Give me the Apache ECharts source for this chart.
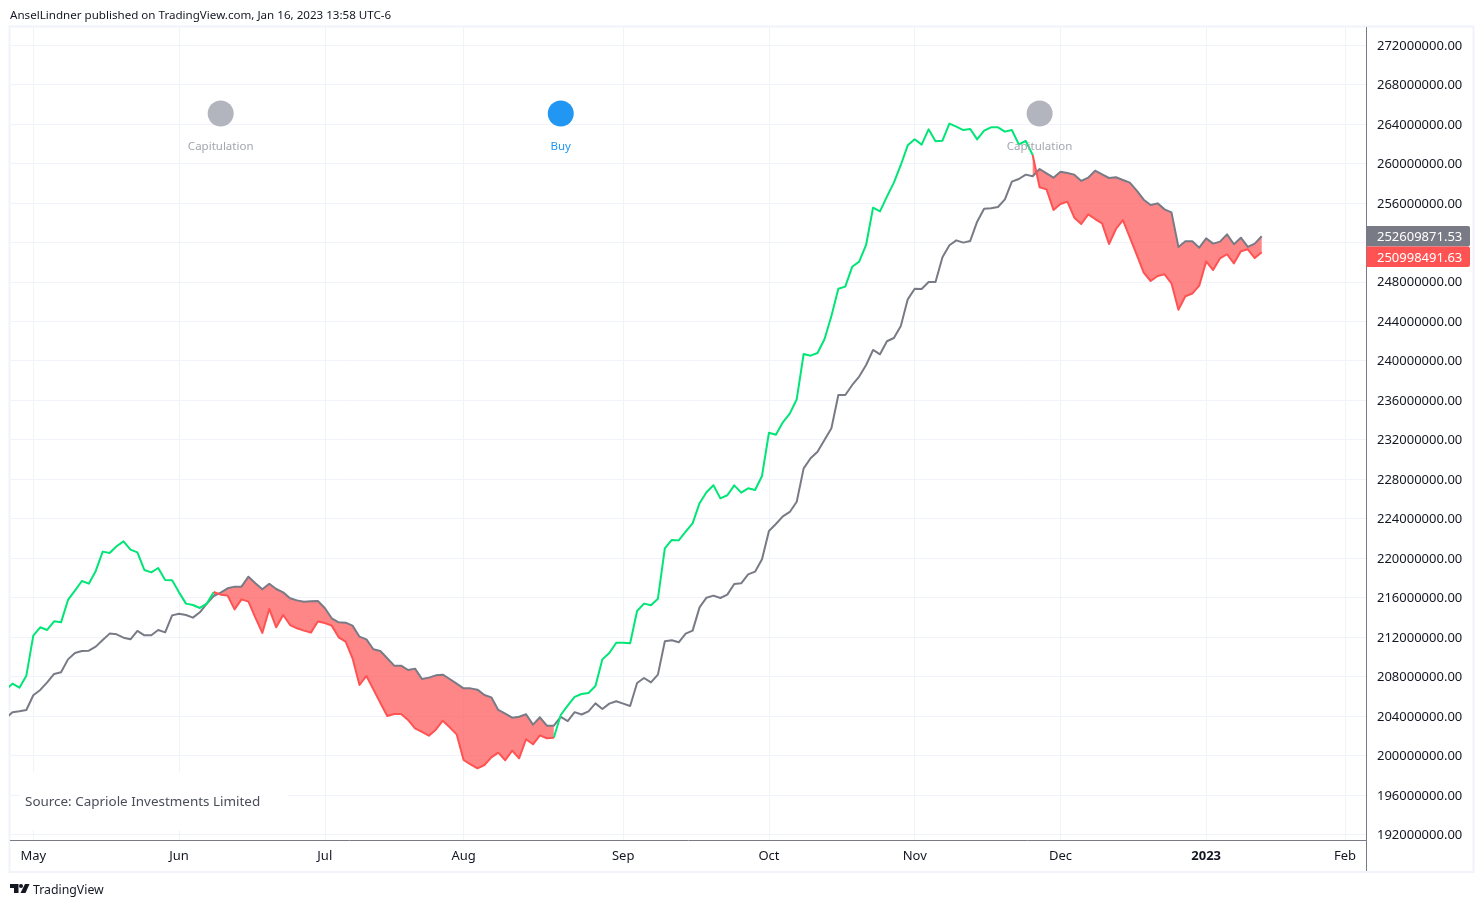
<!DOCTYPE html>
<html>
<head>
<meta charset="utf-8">
<title>Capriole</title>
<script src="https://cdn.jsdelivr.net/npm/echarts@6/dist/echarts.min.js"></script>
<style>
html,body{margin:0;padding:0;background:#fff}
#chart{width:1484px;height:907px}
</style>
</head>
<body>
<div id="chart"></div>
<script>
// values in millions, one per trading day, bar 0 is just left of the visible area
var fastLine = [206.63,207.27,206.86,208.08,212.13,212.98,212.71,213.59,213.48,215.75,
  216.69,217.67,217.40,218.69,220.65,220.51,221.19,221.69,220.85,220.58,
  218.79,218.55,218.99,217.77,217.74,216.52,215.38,215.24,214.94,215.38,
  216.56,216.29,216.19,214.80,215.81,215.58,213.96,212.41,214.84,212.98,
  214.23,213.21,212.88,212.64,212.44,213.56,213.42,213.15,211.96,211.52,
  209.84,207.13,208.05,206.69,205.34,203.99,204.19,204.19,203.59,202.74,
  202.37,201.99,202.60,203.51,202.84,202.13,199.53,199.09,198.69,199.02,
  199.80,200.27,199.50,200.48,199.70,201.63,201.12,202.03,201.73,201.79,
  204.09,205.04,205.92,206.22,206.32,207.03,209.73,210.38,211.42,211.42,
  211.36,214.63,215.38,215.21,215.88,220.98,221.83,221.79,222.67,223.52,
  225.56,226.66,227.37,226.05,226.36,227.37,226.63,227.07,226.90,228.32,
  232.70,232.50,233.76,234.64,236.09,240.68,240.51,240.78,242.17,244.53,
  247.30,247.51,249.53,250.04,251.73,255.51,255.14,256.63,258.05,259.84,
  261.83,262.44,261.90,263.45,262.24,262.30,264.03,263.72,263.38,263.49,
  262.44,263.32,263.66,263.66,263.22,263.38,261.93,262.27,260.85,257.58,
  257.37,255.28,255.88,256.12,254.50,253.86,254.84,254.36,253.92,251.83,
  253.35,254.26,252.51,250.72,248.93,248.08,248.59,248.76,247.84,245.17,
  246.53,246.80,247.61,250.07,249.19,250.38,250.79,249.87,251.09,251.29,
  250.41,251.00];
var slowLine = [203.75,204.36,204.46,204.60,206.09,206.63,207.40,208.25,208.42,209.73,
  210.38,210.58,210.61,211.02,211.69,212.34,212.27,211.93,211.76,212.61,
  212.17,212.17,212.71,212.47,214.19,214.36,214.23,213.96,214.50,215.38,
  216.15,216.49,216.93,217.10,217.10,218.11,217.44,216.83,217.40,216.86,
  216.52,215.92,215.71,215.58,215.61,215.65,214.94,213.89,213.48,213.45,
  213.15,212.03,211.76,210.75,210.58,209.84,209.09,209.09,208.65,208.79,
  207.74,207.88,208.11,208.18,207.74,207.27,206.79,206.79,206.66,206.12,
  205.88,204.60,204.23,203.82,203.92,204.16,203.11,203.86,203.01,203.01,
  203.89,203.48,204.38,204.14,204.46,205.27,204.70,205.24,205.48,205.24,
  205.00,207.33,207.84,207.40,208.18,211.56,211.66,211.46,212.34,212.64,
  215.00,215.98,216.19,215.95,216.29,217.37,217.44,218.35,218.62,219.87,
  222.74,223.45,224.23,224.67,225.71,229.09,230.11,230.78,231.97,233.15,
  236.53,236.53,237.54,238.39,239.57,241.09,240.65,241.97,242.30,243.52,
  246.22,247.30,247.27,247.98,247.98,250.48,251.70,252.20,251.97,252.14,
  254.09,255.41,255.45,255.58,256.35,258.15,258.42,258.86,258.70,259.43,
  258.99,258.55,259.16,259.03,258.86,258.22,258.55,259.26,258.89,258.52,
  258.59,258.32,258.05,257.24,256.32,255.78,255.95,255.34,255.04,251.53,
  252.10,252.10,251.46,252.40,251.87,252.07,252.81,251.80,252.47,251.53,
  251.87,252.61];

var monthBars = [4,25,46,66,89,110,131,152,173,193];
var monthNames = ['May','Jun','Jul','Aug','Sep','Oct','Nov','Dec','2023','Feb'];
var priceTicks = [192,196,200,204,208,212,216,220,224,228,232,236,240,244,248,252,256,260,264,268,272];
// 252 is covered by the last value tags, so it gets a grid line but no label
var priceLabels = [192,196,200,204,208,212,216,220,224,228,232,236,240,244,248,256,260,264,268,272];

// [first bar, last bar] of each colour run of the fast line
var greenRuns = [[0,30],[79,148]];
var redRuns = [[30,79],[148,181]];

var eventBars = [31,80,149];
var eventLevel = 265.06;
var eventNames = ['Capitulation','Buy','Capitulation'];
var eventColors = ['#B2B5BE','#2196F3','#B2B5BE'];

var tagValues = [252609871.53,250998491.63];
var tagColors = ['#787B86','#FF5252'];

var FONT = '"Noto Sans", sans-serif';
var BAR_MIN = 0.715, BAR_MAX = 196.1;

function runData(arr, run){
    var out = [];
    for (var i = run[0]; i <= run[1]; i++) out.push([i, arr[i]]);
    return out;
}

function lineSeries(data, color){
    return {
        type:'line',
        data:data,
        symbol:'none',
        smooth:false,
        silent:true,
        z:5,
        lineStyle:{color:color,width:2,join:'round'}
    };
}

var series = [];

// red band between the two lines
series.push({
    type:'custom',
    coordinateSystem:'cartesian2d',
    silent:true,
    z:3,
    data:redRuns,
    encode:{x:[0,1],y:[]},
    renderItem:function(params,api){
        var from = api.value(0), to = api.value(1), pts = [], i;
        for (i = from; i <= to; i++) pts.push(api.coord([i, fastLine[i]]));
        for (i = to; i >= from; i--) pts.push(api.coord([i, slowLine[i]]));
        return {type:'polygon',shape:{points:pts},style:{fill:'rgba(255,82,82,0.7)'}};
    }
});

series.push(lineSeries(slowLine.map(function(v,i){return [i,v];}),'#787B86'));
greenRuns.forEach(function(r){ series.push(lineSeries(runData(fastLine,r),'#00E676')); });
redRuns.forEach(function(r){ series.push(lineSeries(runData(fastLine,r),'#FF5252')); });

// buy / capitulation markers
series.push({
    type:'scatter',
    silent:true,
    z:6,
    symbol:'circle',
    symbolSize:26,
    data:eventBars.map(function(b,i){
        return {
            value:[b,eventLevel],
            itemStyle:{color:eventColors[i],opacity:1},
            label:{
                show:true,
                position:'bottom',
                distance:14,
                formatter:eventNames[i],
                color:i==1 ? '#2196F3' : '#A3A6AF',
                fontSize:11.5,
                fontFamily:FONT
            }
        };
    })
});

// last value tags on the price scale
series.push({
    type:'custom',
    coordinateSystem:'cartesian2d',
    silent:true,
    z:8,
    data:tagValues.map(function(v){return [BAR_MAX, v/1e6];}),
    renderItem:function(params,api){
        var c = api.coord([api.value(0),api.value(1)]);
        var i = params.dataIndex;
        // second tag is pushed down so it sits under the first
        var top = i==0 ? c[1]-10.3 : c[1]-5.7;
        return {
            type:'group',
            children:[
                {type:'rect',shape:{x:c[0],y:top,width:103.5,height:20.5,r:[0,2,2,0]},style:{fill:tagColors[i]}},
                {type:'text',style:{x:Math.round(c[0]+10.5),y:Math.round(top+11.3),text:tagValues[i].toFixed(2),fill:'#fff',font:'13px '+FONT,textVerticalAlign:'middle'}}
            ]
        };
    }
});

var option = {
    animation:false,
    backgroundColor:'#fff',
    grid:{left:10.5,top:27.5,width:1356,height:813,containLabel:false},
    xAxis:{
        type:'value',
        min:BAR_MIN,
        max:BAR_MAX,
        axisLine:{show:true,lineStyle:{color:'#787B86',width:1}},
        axisTick:{show:false,customValues:monthBars},
        splitLine:{show:true,lineStyle:{color:'#F0F3FA',width:1}},
        axisLabel:{
            customValues:monthBars,
            margin:9,
            color:'#131722',
            fontSize:13,
            fontFamily:FONT,
            formatter:function(v){
                var n = monthNames[monthBars.indexOf(v)];
                return n=='2023' ? '{b|'+n+'}' : n;
            },
            rich:{b:{fontWeight:'bold',fontSize:13,fontFamily:FONT,color:'#131722'}}
        }
    },
    yAxis:{
        type:'value',
        position:'right',
        min:191.37,
        max:273.774,
        axisLine:{show:true,onZero:false,lineStyle:{color:'#787B86',width:1}},
        axisTick:{show:false,customValues:priceTicks},
        splitLine:{show:true,lineStyle:{color:'#F0F3FA',width:1}},
        axisLabel:{
            customValues:priceLabels,
            margin:10.5,
            verticalAlign:'top',
            lineHeight:2,
            color:'#131722',
            fontSize:13,
            fontFamily:FONT,
            formatter:function(v){ return (v*1e6).toFixed(2); }
        }
    },
    graphic:[
        {type:'rect',z:0,silent:true,shape:{x:9.5,y:26.5,width:1464,height:845.5},style:{fill:'none',stroke:'#F0F3FA',lineWidth:2}},
        {type:'line',z:1,silent:true,shape:{x1:1366.5,y1:840,x2:1366.5,y2:871},style:{stroke:'#787B86',lineWidth:1}},
        {type:'rect',z:1,silent:true,shape:{x:20,y:772,width:268,height:58},style:{fill:'#fff'}},
        {type:'text',z:2,silent:true,style:{x:25,y:802,text:'Source: Capriole Investments Limited',fill:'#4A4E5A',font:'13.45px '+FONT,textVerticalAlign:'middle'}},
        {type:'text',z:2,silent:true,style:{x:10,y:15.5,text:'AnselLindner published on TradingView.com, Jan 16, 2023 13:58 UTC-6',fill:'#131722',font:'11.6px '+FONT,textVerticalAlign:'middle'}},
        {type:'polygon',z:2,silent:true,shape:{points:[[10,884],[18.5,884],[18.5,893],[14,893],[14,888],[10,888]]},style:{fill:'#131722'}},
        {type:'circle',z:2,silent:true,shape:{cx:21,cy:886,r:2},style:{fill:'#131722'}},
        {type:'polygon',z:2,silent:true,shape:{points:[[25,884],[29.5,884],[25.5,893],[20.5,893]]},style:{fill:'#131722'}},
        {type:'text',z:2,silent:true,style:{x:33,y:890,text:'TradingView',fill:'#131722',font:'12.3px '+FONT,textVerticalAlign:'middle'}}
    ],
    series:series
};

var myChart = echarts.init(document.getElementById('chart'));
myChart.setOption(option);
</script>
</body>
</html>
